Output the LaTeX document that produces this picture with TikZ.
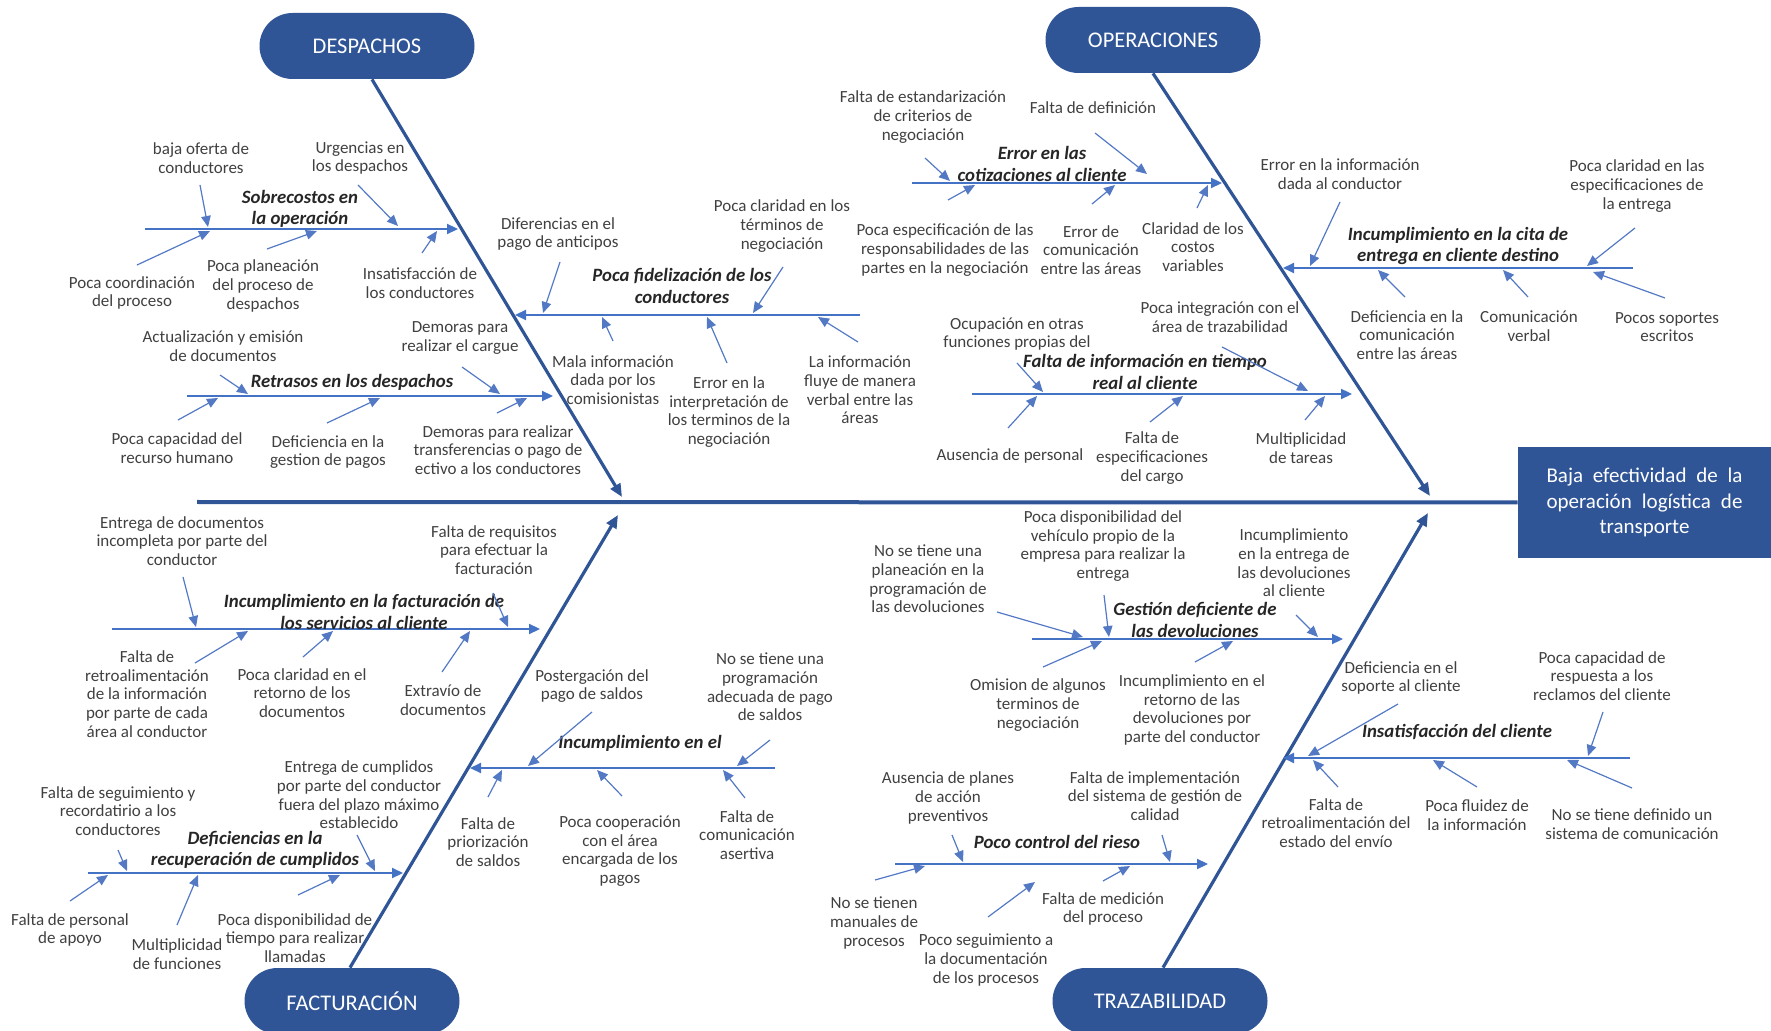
\documentclass[tikz,border=0pt]{standalone}
\usepackage{fontspec}
\setmainfont{Carlito}
\usetikzlibrary{arrows.meta}
\definecolor{bonecol}{HTML}{2F5597}
\definecolor{branchcol}{HTML}{4472C4}
\definecolor{causecol}{HTML}{5479C4}
\definecolor{txtcol}{HTML}{404040}
\definecolor{lblcol}{HTML}{262626}

\begin{document}
\begin{tikzpicture}[x=0.5pt,y=-0.5pt,
  head/.style={rectangle, rounded corners=16.5pt, fill=bonecol, text=white,
    minimum width=107.5pt, minimum height=33pt, inner sep=0pt,
    font=\fontsize{11.2}{13}\selectfont},
  effect/.style={rectangle, fill=bonecol, text=white, minimum width=126.5pt,
    minimum height=55.5pt, inner sep=0pt, align=center,
    font=\fontsize{10.5}{12.75}\selectfont},
  spine/.style={draw=bonecol, line width=2pt},
  bone/.style={draw=bonecol, line width=1.6pt, -{Triangle[length=6.5pt,width=5.5pt]}},
  branch/.style={draw=branchcol, line width=1.1pt, -{Triangle[length=5.5pt,width=5pt]}},
  causearr/.style={draw=causecol, line width=0.6pt, -{Triangle[length=5.5pt,width=4.8pt]}},
  cause/.style={font=\fontsize{8.5}{9.3}\selectfont, text=txtcol, align=center, inner sep=0pt},
  lbl/.style={font=\fontsize{9.4}{10.8}\selectfont\bfseries\itshape, text=lblcol, align=center, inner sep=0pt}
]
\useasboundingbox (0,0) rectangle (1771,1031);

% ---------- effect and spine ----------
\node[effect] (effect) at (1644.5,502.5)
  {\makebox[98pt][s]{Baja efectividad de la}\\
   \makebox[98pt][s]{operación logística de}\\transporte};
\draw[spine] (197,502) coordinate (spstart) -- (effect.west);

% ---------- category heads ----------
\node[head] (despachos)    at (367,46)   {DESPACHOS};
\node[head] (operaciones)  at (1153,40)  {OPERACIONES};
\node[head] (facturacion)  at (352,1001) {FACTURACIÓN};
\node[head] (trazabilidad) at (1160,1001) {TRAZABILIDAD};

% ---------- main bones ----------
\draw[bone] ([xshift=2.5pt]despachos.south) -- (622,497) coordinate (dtip);
\draw[bone] (operaciones.south) -- (1430,496) coordinate (otip);
\draw[bone] ([xshift=-1pt]facturacion.north) -- (618,515) coordinate (ftip);
\draw[bone] ([xshift=1.5pt]trazabilidad.north) -- (1428,513) coordinate (ttip);

% ---------- sub-branches ----------
\draw[branch] (145,229) coordinate (b1s) -- (458,229) coordinate (b1e);
\draw[branch] (187,396) coordinate (b2s) -- (553,396) coordinate (b2e);
\draw[branch] (860,315) coordinate (b3s) -- (515,315) coordinate (b3e);
\draw[branch] (912,183) coordinate (b4s) -- (1222,183) coordinate (b4e);
\draw[branch] (972,394) coordinate (b5s) -- (1352,394) coordinate (b5e);
\draw[branch] (1633,268) coordinate (b6s) -- (1283,268) coordinate (b6e);
\draw[branch] (112,629) coordinate (b7s) -- (540,629) coordinate (b7e);
\draw[branch] (88,873) coordinate (b8s) -- (403,873) coordinate (b8e);
\draw[branch] (775,768) coordinate (b9s) -- (470,768) coordinate (b9e);
\draw[branch] (1032,639) coordinate (b10s) -- (1343,639) coordinate (b10e);
\draw[branch] (1630,758) coordinate (b11s) -- (1283,758) coordinate (b11e);
\draw[branch] (895,864) coordinate (b12s) -- (1208,864) coordinate (b12e);

% ---------- branch labels ----------
\node[lbl] (l1)  at (300,209)  {Sobrecostos en\\la operación};
\node[lbl] (l2)  at (352,382)  {Retrasos en los despachos};
\node[lbl] (l3)  at (682,286)  {Poca fidelización de los\\conductores};
\node[lbl] (l4)  at (1042,164) {Error en las\\cotizaciones al cliente};
\node[lbl] (l5)  at (1145,372) {Falta de información en tiempo\\real al cliente};
\node[lbl] (l6)  at (1458,246) {Incumplimiento en la cita de\\entrega en cliente destino};
\node[lbl] (l7)  at (364,612)  {Incumplimiento en la facturación de\\los servicios al cliente};
\node[lbl] (l8)  at (255,850)  {Deficiencias en la\\recuperación de cumplidos};
\node[lbl] (l9)  at (640,743)  {Incumplimiento en el};
\node[lbl] (l10) at (1195,620) {Gestión deficiente de\\las devoluciones};
\node[lbl] (l11) at (1457,732) {Insatisfacción del cliente};
\node[lbl] (l12) at (1057,842) {Poco control del rieso};

% ---------- DESPACHOS: Sobrecostos en la operación ----------
\node[cause] (c11) at (201,158) {baja oferta de\\conductores};
\draw[causearr] (200,185) coordinate (c11t) -- (208,227) coordinate (c11h);
\node[cause] (c12) at (360,158) {Urgencias en\\los despachos};
\draw[causearr] (358,185) coordinate (c12t) -- (398,226) coordinate (c12h);
\node[cause] (c13) at (132,293) {Poca coordinación\\del proceso};
\draw[causearr] (137,265) coordinate (c13t) -- (210,231) coordinate (c13h);
\node[cause] (c14) at (263,286) {Poca planeación\\del proceso de\\despachos};
\draw[causearr] (267,249) coordinate (c14t) -- (317,231) coordinate (c14h);
\node[cause] (c15) at (420,283) {Insatisfacción de\\los conductores};
\draw[causearr] (422,253) coordinate (c15t) -- (437,231) coordinate (c15h);

% ---------- DESPACHOS: Retrasos en los despachos ----------
\node[cause] (c21) at (223,346) {Actualización y emisión\\de documentos};
\draw[causearr] (220,375) coordinate (c21t) -- (248,394) coordinate (c21h);
\node[cause] (c22) at (460,338) {Demoras para\\realizar el cargue};
\draw[causearr] (462,367) coordinate (c22t) -- (500,394) coordinate (c22h);
\node[cause] (c23) at (177,448) {Poca capacidad del\\recurso humano};
\draw[causearr] (178,420) coordinate (c23t) -- (218,398) coordinate (c23h);
\node[cause] (c24) at (328,452) {Deficiencia en la\\gestion de pagos};
\draw[causearr] (327,423) coordinate (c24t) -- (380,398) coordinate (c24h);
\node[cause] (c25) at (498,450) {Demoras para realizar\\transferencias o pago de\\ectivo a los conductores};
\draw[causearr] (497,413) coordinate (c25t) -- (527,398) coordinate (c25h);

% ---------- DESPACHOS: Poca fidelización de los conductores ----------
\node[cause] (c31) at (558,234) {Diferencias en el\\pago de anticipos};
\draw[causearr] (560,262) coordinate (c31t) -- (543,313) coordinate (c31h);
\node[cause] (c32) at (782,226) {Poca claridad en los\\términos de\\negociación};
\draw[causearr] (783,267) coordinate (c32t) -- (753,313) coordinate (c32h);
\node[cause] (c33) at (613,380) {Mala información\\dada por los\\comisionistas};
\draw[causearr] (613,341) coordinate (c33t) -- (602,317) coordinate (c33h);
\node[cause] (c34) at (729,412) {Error en la\\interpretación de\\los terminos de la\\negociación};
\draw[causearr] (727,363) coordinate (c34t) -- (707,317) coordinate (c34h);
\node[cause] (c35) at (860,390) {La información\\fluye de manera\\verbal entre las\\áreas};
\draw[causearr] (858,342) coordinate (c35t) -- (818,317) coordinate (c35h);

% ---------- OPERACIONES: Error en las cotizaciones al cliente ----------
\node[cause] (c41) at (923,117) {Falta de estandarización\\de criterios de\\negociación};
\draw[causearr] (925,158) coordinate (c41t) -- (950,181) coordinate (c41h);
\node[cause] (c42) at (1093,108) {Falta de definición};
\draw[causearr] (1095,133) coordinate (c42t) -- (1147,174) coordinate (c42h);
\node[cause] (c43) at (945,250) {Poca especificación de las\\responsabilidades de las\\partes en la negociación};
\draw[causearr] (948,200) coordinate (c43t) -- (975,185) coordinate (c43h);
\node[cause] (c44) at (1091,250) {Error de\\comunicación\\entre las áreas};
\draw[causearr] (1092,204) coordinate (c44t) -- (1115,185) coordinate (c44h);
\node[cause] (c45) at (1193,247) {Claridad de los\\costos\\variables};
\draw[causearr] (1197,208) coordinate (c45t) -- (1208,185) coordinate (c45h);

% ---------- OPERACIONES: Falta de información en tiempo real ----------
\node[cause] (c51) at (1017,334) {Ocupación en otras\\funciones propias del};
\draw[causearr] (1017,363) coordinate (c51t) -- (1043,392) coordinate (c51h);
\node[cause] (c52) at (1220,317) {Poca integración con el\\área de trazabilidad};
\draw[causearr] (1222,347) coordinate (c52t) -- (1308,391) coordinate (c52h);
\node[cause] (c53) at (1010,456) {Ausencia de personal};
\draw[causearr] (1008,428) coordinate (c53t) -- (1037,396) coordinate (c53h);
\node[cause] (c54) at (1152,458) {Falta de\\especificaciones\\del cargo};
\draw[causearr] (1150,422) coordinate (c54t) -- (1183,396) coordinate (c54h);
\node[cause] (c55) at (1301,448) {Multiplicidad\\de tareas};
\draw[causearr] (1305,420) coordinate (c55t) -- (1325,396) coordinate (c55h);

% ---------- OPERACIONES: Incumplimiento en la cita de entrega ----------
\node[cause] (c61) at (1340,174) {Error en la información\\dada al conductor};
\draw[causearr] (1340,202) coordinate (c61t) -- (1310,266) coordinate (c61h);
\node[cause] (c62) at (1637,186) {Poca claridad en las\\especificaciones de\\la entrega};
\draw[causearr] (1635,228) coordinate (c62t) -- (1587,266) coordinate (c62h);
\node[cause] (c63) at (1407,335) {Deficiencia en la\\comunicación\\entre las áreas};
\draw[causearr] (1405,297) coordinate (c63t) -- (1378,270) coordinate (c63h);
\node[cause] (c64) at (1529,326) {Comunicación\\verbal};
\draw[causearr] (1528,297) coordinate (c64t) -- (1503,270) coordinate (c64h);
\node[cause] (c65) at (1667,327) {Pocos soportes\\escritos};
\draw[causearr] (1665,298) coordinate (c65t) -- (1593,272) coordinate (c65h);

% ---------- FACTURACIÓN: Incumplimiento en la facturación ----------
\node[cause] (c71) at (182,541) {Entrega de documentos\\incompleta por parte del\\conductor};
\draw[causearr] (183,577) coordinate (c71t) -- (196,627) coordinate (c71h);
\node[cause] (c72) at (494,550) {Falta de requisitos\\para efectuar la\\facturación};
\draw[causearr] (493,593) coordinate (c72t) -- (508,627) coordinate (c72h);
\node[cause] (c73) at (147,694) {Falta de\\retroalimentación\\de la información\\por parte de cada\\área al conductor};
\draw[causearr] (195,663) coordinate (c73t) -- (248,631) coordinate (c73h);
\node[cause] (c74) at (302,693) {Poca claridad en el\\retorno de los\\documentos};
\draw[causearr] (303,657) coordinate (c74t) -- (333,631) coordinate (c74h);
\node[cause] (c75) at (443,700) {Extravío de\\documentos};
\draw[causearr] (442,672) coordinate (c75t) -- (470,631) coordinate (c75h);

% ---------- FACTURACIÓN: Deficiencias en la recuperación de cumplidos ----------
\node[cause] (c81) at (118,811) {Falta de seguimiento y\\recordatirio a los\\conductores};
\draw[causearr] (118,850) coordinate (c81t) -- (127,871) coordinate (c81h);
\node[cause] (c82) at (359,795) {Entrega de cumplidos\\por parte del conductor\\fuera del plazo máximo\\establecido};
\draw[causearr] (357,835) coordinate (c82t) -- (375,871) coordinate (c82h);
\node[cause] (c83) at (70,930) {Falta de personal\\de apoyo};
\draw[causearr] (70,901) coordinate (c83t) -- (108,875) coordinate (c83h);
\node[cause] (c84) at (177,954) {Multiplicidad\\de funciones};
\draw[causearr] (177,925) coordinate (c84t) -- (198,875) coordinate (c84h);
\node[cause] (c85) at (295,938) {Poca disponibilidad de\\tiempo para realizar\\llamadas};
\draw[causearr] (298,895) coordinate (c85t) -- (340,875) coordinate (c85h);

% ---------- FACTURACIÓN: Incumplimiento en el ----------
\node[cause] (c91) at (592,686) {Postergación del\\pago de saldos};
\draw[causearr] (592,712) coordinate (c91t) -- (528,766) coordinate (c91h);
\node[cause] (c92) at (770,687) {No se tiene una\\programación\\adecuada de pago\\de saldos};
\draw[causearr] (770,740) coordinate (c92t) -- (737,766) coordinate (c92h);
\node[cause] (c93) at (488,842) {Falta de\\priorización\\de saldos};
\draw[causearr] (488,797) coordinate (c93t) -- (502,770) coordinate (c93h);
\node[cause] (c94) at (620,851) {Poca cooperación\\con el área\\encargada de los\\pagos};
\draw[causearr] (622,796) coordinate (c94t) -- (597,770) coordinate (c94h);
\node[cause] (c95) at (747,835) {Falta de\\comunicación\\asertiva};
\draw[causearr] (745,798) coordinate (c95t) -- (723,770) coordinate (c95h);

% ---------- TRAZABILIDAD: Gestión deficiente de las devoluciones ----------
\node[cause] (c101) at (928,579) {No se tiene una\\planeación en la\\programación de\\las devoluciones};
\draw[causearr] (997,612) coordinate (c101t) -- (1083,637) coordinate (c101h);
\node[cause] (c102) at (1103,546) {Poca disponibilidad del\\vehículo propio de la\\empresa para realizar la\\entrega};
\draw[causearr] (1104,595) coordinate (c102t) -- (1109,637) coordinate (c102h);
\node[cause] (c103) at (1294,563) {Incumplimiento\\en la entrega de\\las devoluciones\\al cliente};
\draw[causearr] (1296,615) coordinate (c103t) -- (1318,637) coordinate (c103h);
\node[cause] (c104) at (1038,705) {Omision de algunos\\terminos de\\negociación};
\draw[causearr] (1043,667) coordinate (c104t) -- (1102,641) coordinate (c104h);
\node[cause] (c105) at (1192,710) {Incumplimiento en el\\retorno de las\\devoluciones por\\parte del conductor};
\draw[causearr] (1195,662) coordinate (c105t) -- (1233,641) coordinate (c105h);

% ---------- TRAZABILIDAD: Insatisfacción del cliente ----------
\node[cause] (c111) at (1401,678) {Deficiencia en el\\soporte al cliente};
\draw[causearr] (1398,704) coordinate (c111t) -- (1308,756) coordinate (c111h);
\node[cause] (c112) at (1602,676) {Poca capacidad de\\respuesta a los\\reclamos del cliente};
\draw[causearr] (1603,712) coordinate (c112t) -- (1588,756) coordinate (c112h);
\node[cause] (c113) at (1336,823) {Falta de\\retroalimentación del\\estado del envío};
\draw[causearr] (1338,787) coordinate (c113t) -- (1313,760) coordinate (c113h);
\node[cause] (c114) at (1477,815) {Poca fluidez de\\la información};
\draw[causearr] (1477,787) coordinate (c114t) -- (1433,760) coordinate (c114h);
\node[cause] (c115) at (1632,824) {No se tiene definido un\\sistema de comunicación};
\draw[causearr] (1632,788) coordinate (c115t) -- (1567,760) coordinate (c115h);

% ---------- TRAZABILIDAD: Poco control del rieso ----------
\node[cause] (c121) at (948,798) {Ausencia de planes\\de acción\\preventivos};
\draw[causearr] (952,835) coordinate (c121t) -- (963,862) coordinate (c121h);
\node[cause] (c122) at (1155,796) {Falta de implementación\\del sistema de gestión de\\calidad};
\draw[causearr] (1162,835) coordinate (c122t) -- (1170,862) coordinate (c122h);
\node[cause] (c123) at (874,923) {No se tienen\\manuales de\\procesos};
\draw[causearr] (875,880) coordinate (c123t) -- (925,866) coordinate (c123h);
\node[cause] (c124) at (986,960) {Poco seguimiento a\\la documentación\\de los procesos};
\draw[causearr] (988,917) coordinate (c124t) -- (1035,882) coordinate (c124h);
\node[cause] (c125) at (1103,909) {Falta de medición\\del proceso};
\draw[causearr] (1103,881) coordinate (c125t) -- (1130,866) coordinate (c125h);

\end{tikzpicture}
\end{document}
